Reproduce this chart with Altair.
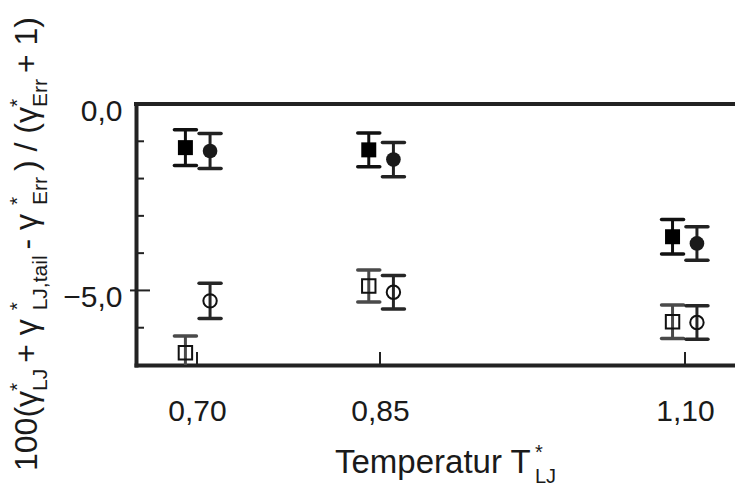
import altair as alt
import pandas as pd

# ---------------- data ----------------
temps = [0.70, 0.85, 1.10]
x_squares = [0.6905, 0.8408, 1.0898]
x_circles = [0.7107, 0.8610, 1.1098]

filled_sq = [-1.17, -1.23, -3.56]
filled_sq_err = [0.48, 0.45, 0.46]
filled_ci = [-1.26, -1.49, -3.74]
filled_ci_err = [0.47, 0.46, 0.45]
open_sq = [-6.67, -4.88, -5.84]
open_sq_err = [0.45, 0.43, 0.45]
open_ci = [-5.28, -5.05, -5.86]
open_ci_err = [0.47, 0.45, 0.45]

y_label_values = [0.0, -5.0]
y_minor_ticks = [-1.0, -2.0, -3.0, -4.0, -6.0]
y_major_ticks = [-5.0]

NB = "\u00a0"  # leading spaces would be collapsed by SVG
y_title_parts = [("m", "100(γ"), ("p", "*"), ("b", "LJ"), ("m", NB + "+ γ"), ("p", "*"),
                 ("b", "LJ,tail"), ("m", NB + "- γ"), ("p", "*"), ("b", "Err"),
                 ("m", ") / (γ"), ("p", "*"), ("b", "Err"), ("m", "+ 1)")]
x_title_parts = [("m", "Temperatur T"), ("p", "*"), ("b", "LJ")]

series_names = ["filled_sq", "filled_ci", "open_sq", "open_ci"]
bar_colors = ["#111111", "#222222", "#4a4a4a", "#262626"]

# ---------------- layout ----------------
W, H = 599, 261
FONT = "Liberation Sans"
TXT = "#1a1a1a"
FRAME = "#222222"

rows = []
for name, xs, vals, errs in [("filled_sq", x_squares, filled_sq, filled_sq_err),
                             ("filled_ci", x_circles, filled_ci, filled_ci_err),
                             ("open_sq", x_squares, open_sq, open_sq_err),
                             ("open_ci", x_circles, open_ci, open_ci_err)]:
    for xv, v, e in zip(xs, vals, errs):
        rows.append({"series": name, "x": xv, "v": v, "lo": v - e, "hi": v + e})
df = pd.DataFrame(rows)

xscale = alt.Scale(domain=[0.65, 1.141], nice=False, zero=False)
yscale = alt.Scale(domain=[-7, 0], nice=False, zero=False)

x_axis = alt.Axis(values=temps, labelExpr="replace(format(datum.value, '.2f'), '.', ',')",
                  ticks=False, grid=False, domainWidth=4, domainColor=FRAME,
                  labelFontSize=30, labelFont=FONT, labelColor=TXT, labelPadding=31,
                  labelFlush=False, labelOverlap=False, title=None, domainCap="square")
y_axis = alt.Axis(values=y_label_values, labelExpr="replace(format(datum.value, '.1f'), '.', ',')",
                  ticks=False, grid=False, domainWidth=4, domainColor=FRAME,
                  labelFontSize=30, labelFont=FONT, labelColor=TXT, labelPadding=14,
                  labelOffset=7, labelFlush=False, labelOverlap=False, title=None,
                  domainCap="square")


def X(field):
    return alt.X(field, type="quantitative", scale=xscale, axis=x_axis)


def Y(field):
    return alt.Y(field, type="quantitative", scale=yscale, axis=y_axis)


color = alt.Color("series:N", scale=alt.Scale(domain=series_names, range=bar_colors), legend=None)
base = alt.Chart(df)

bars = base.mark_rule(strokeWidth=3, clip=True).encode(x=X("x"), y=Y("lo"), y2="hi:Q", color=color)
cap_lo = base.mark_rule(strokeWidth=3.5, strokeCap="round", xOffset=-11, x2Offset=11, clip=True).encode(
    x=X("x"), x2="x:Q", y=Y("lo"), color=color)
cap_hi = base.mark_rule(strokeWidth=3.5, strokeCap="round", xOffset=-11, x2Offset=11, clip=True).encode(
    x=X("x"), x2="x:Q", y=Y("hi"), color=color)

pts_fsq = base.transform_filter("datum.series == 'filled_sq'").mark_point(
    shape="square", filled=True, size=225, color="#000000", opacity=1).encode(x=X("x"), y=Y("v"))
pts_fci = base.transform_filter("datum.series == 'filled_ci'").mark_point(
    shape="circle", filled=True, size=215, color="#1a1a1a", opacity=1).encode(x=X("x"), y=Y("v"))
pts_osq = base.transform_filter("datum.series == 'open_sq'").mark_point(
    shape="square", filled=False, size=180, strokeWidth=2, color="#111111", opacity=1).encode(x=X("x"), y=Y("v"))
pts_oci = base.transform_filter("datum.series == 'open_ci'").mark_point(
    shape="circle", filled=False, size=180, strokeWidth=2, color="#111111", opacity=1).encode(x=X("x"), y=Y("v"))

one = alt.Data(values=[{}])
top_line = alt.Chart(one).mark_rule(color=FRAME, strokeWidth=4).encode(
    x=alt.value(-2), x2=alt.value(W + 10), y=alt.value(0))

minor = alt.Chart(pd.DataFrame({"t": y_minor_ticks})).mark_rule(color=FRAME, strokeWidth=2).encode(
    y=Y("t"), x=alt.value(0), x2=alt.value(8))
major = alt.Chart(pd.DataFrame({"t": y_major_ticks})).mark_rule(color=FRAME, strokeWidth=2).encode(
    y=Y("t"), x=alt.value(-6), x2=alt.value(14))
xticks = alt.Chart(pd.DataFrame({"t": temps})).mark_rule(color=FRAME, strokeWidth=2).encode(
    x=X("t"), y=alt.value(H), y2=alt.value(H - 13))

# ---------------- composed titles with super/subscripts ----------------
AW = {"0": 556, "1": 556, "(": 333, ")": 333, " ": 278, NB: 278, "+": 584, "-": 333, "/": 278,
      "γ": 500, "*": 389, "L": 556, "J": 500, ",": 278, "t": 278, "a": 556, "i": 222,
      "l": 222, "E": 667, "r": 333, "T": 611, "e": 556, "m": 833, "p": 556, "u": 556}


def tw(s, size):
    return sum(AW.get(c, 556) for c in s) * size / 1000.0


def title_layers(parts, F, f, start, base_pos, vertical, sub_gap=0.0):
    layers = []
    pos = 0.0
    for kind, s in parts:
        size = F if kind == "m" else f
        shift = 0.0 if kind == "m" else (-0.42 * F if kind == "p" else 0.30 * F)
        if vertical:
            xx, yy = base_pos + shift, start - pos
        else:
            xx, yy = start + pos, base_pos + shift
        layers.append(alt.Chart(one).mark_text(
            angle=270 if vertical else 0, align="left", baseline="alphabetic",
            font=FONT, fontSize=size, color=TXT).encode(
            x=alt.value(xx), y=alt.value(yy), text=alt.value(s)))
        if kind != "p":
            pos += tw(s, size)
        if kind == "b":
            pos += sub_gap
    return layers


ytitle = title_layers(y_title_parts, 32, 21, 367, -99, True, sub_gap=6)
xtitle = title_layers(x_title_parts, 33, 20, 199, 369, False)

chart = alt.layer(bars, cap_lo, cap_hi, pts_fsq, pts_fci, pts_osq, pts_oci,
                  minor, major, xticks, top_line, *ytitle, *xtitle).properties(
    width=W, height=H,
    autosize=alt.AutoSizeParams(type="none"),
    padding={"left": 136, "top": 104, "right": 0, "bottom": 122},
).configure_view(stroke=None).configure(background="white")

chart.save("out.html", embed_options={"renderer": "svg", "actions": False})
